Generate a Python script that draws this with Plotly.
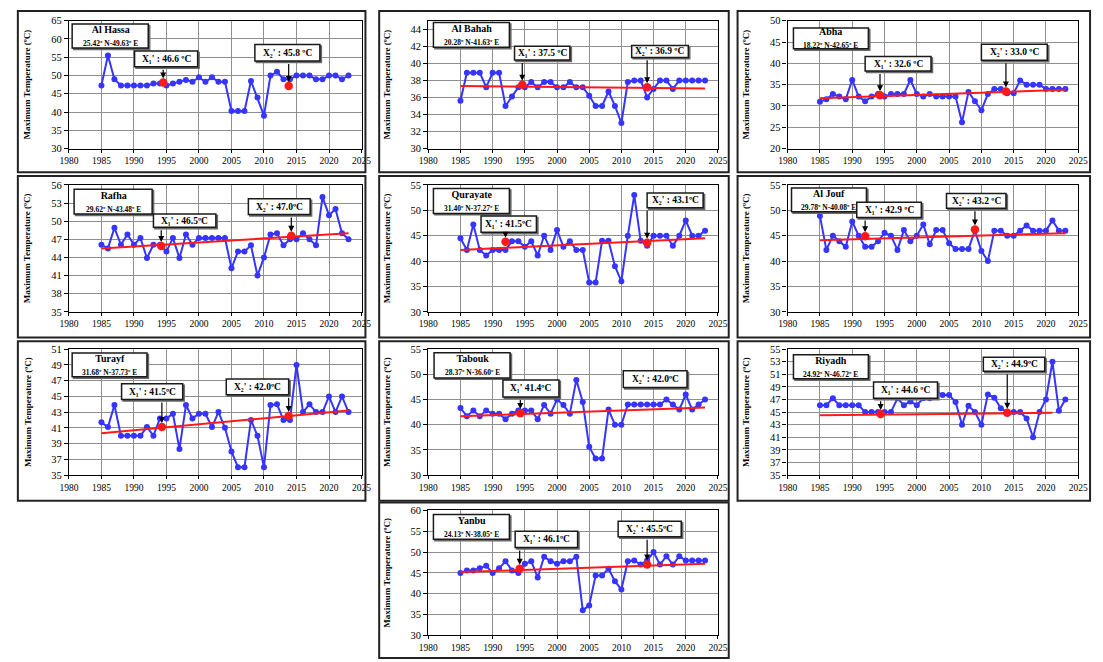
import plotly.graph_objects as go

# ---------------- data ----------------
years = list(range(1985, 2024))

al_hassa = [47.3, 55.5, 49.0, 47.3, 47.3, 47.3, 47.3, 47.3, 47.8, 47.8,
            47.3, 47.8, 48.3, 48.8, 48.3, 49.5, 48.3, 49.5, 48.3, 48.3,
            40.3, 40.3, 40.3, 48.5, 44.0, 39.0, 50.0, 51.0, 49.0, 49.0,
            50.0, 50.0, 50.0, 49.0, 49.0, 50.0, 50.0, 49.0, 50.0]
al_bahah = [35.6, 38.9, 38.9, 38.9, 37.2, 38.9, 38.9, 35.0, 36.1, 37.2,
            37.2, 37.8, 37.2, 37.8, 37.8, 37.2, 37.2, 37.8, 37.2, 37.2,
            36.2, 35.0, 35.0, 36.7, 35.0, 33.0, 37.8, 38.0, 38.0, 36.0,
            37.0, 38.0, 38.0, 37.0, 38.0, 38.0, 38.0, 38.0, 38.0]
abha = [31.0, 31.6, 32.8, 32.2, 31.6, 36.1, 32.2, 31.1, 32.2, 32.8,
        32.2, 32.8, 32.8, 32.8, 36.1, 32.8, 32.2, 32.8, 32.2, 32.2,
        32.2, 32.2, 26.2, 33.3, 31.1, 29.0, 32.8, 34.0, 34.0, 33.0,
        33.0, 36.0, 35.0, 35.0, 35.0, 34.0, 34.0, 34.0, 34.0]
rafha = [46.1, 45.5, 48.9, 46.1, 47.8, 46.1, 47.2, 43.9, 46.1, 46.1,
         45.0, 47.2, 43.9, 47.8, 46.1, 47.2, 47.2, 47.2, 47.2, 47.2,
         42.2, 45.0, 45.0, 46.0, 41.0, 44.0, 47.8, 48.0, 46.0, 47.0,
         47.0, 48.0, 47.0, 46.0, 54.0, 51.0, 52.0, 48.0, 47.0]
qurayate = [44.5, 42.2, 47.2, 42.2, 41.1, 42.2, 42.2, 42.2, 43.9, 43.9,
            42.8, 43.9, 41.1, 45.0, 42.2, 46.1, 42.8, 43.9, 42.2, 42.2,
            35.8, 35.8, 44.0, 44.0, 39.0, 36.0, 45.0, 53.0, 44.0, 43.0,
            45.0, 45.0, 45.0, 43.0, 45.0, 48.0, 45.0, 45.0, 46.0]
al_jouf = [48.9, 42.2, 45.0, 43.9, 42.8, 47.8, 45.0, 42.8, 42.8, 43.9,
           45.6, 45.0, 42.2, 46.1, 43.9, 45.0, 47.2, 43.3, 46.1, 46.1,
           43.5, 42.4, 42.4, 42.4, 46.0, 42.0, 40.0, 46.0, 46.0, 45.0,
           45.0, 46.0, 47.0, 46.0, 46.0, 46.0, 48.0, 46.0, 46.0]
turayf = [41.7, 41.1, 43.9, 40.0, 40.0, 40.0, 40.0, 41.1, 40.0, 42.2,
          42.2, 42.8, 38.3, 43.9, 42.2, 42.8, 42.8, 41.1, 43.0, 41.0,
          38.0, 36.0, 36.0, 42.0, 40.0, 36.0, 43.9, 44.0, 42.0, 42.0,
          49.0, 43.0, 44.0, 43.0, 43.0, 45.0, 43.0, 45.0, 43.0]
tabouk = [43.3, 41.7, 42.8, 41.7, 42.8, 42.2, 42.2, 41.1, 42.2, 42.8,
          42.8, 42.8, 41.1, 43.9, 42.2, 45.0, 43.9, 42.2, 48.9, 44.5,
          35.6, 33.3, 33.3, 43.0, 40.0, 40.0, 44.0, 44.0, 44.0, 44.0,
          44.0, 44.0, 45.0, 44.0, 43.0, 46.0, 43.0, 44.0, 45.0]
riyadh = [46.1, 46.1, 47.2, 46.1, 46.1, 46.1, 46.1, 45.0, 45.0, 45.0,
          45.0, 45.0, 47.2, 46.1, 46.7, 46.1, 47.2, 47.2, 48.3, 47.7,
          47.7, 46.6, 43.0, 46.0, 45.0, 43.0, 47.8, 47.3, 45.6, 45.0,
          45.0, 45.0, 44.0, 41.0, 45.0, 47.0, 53.0, 45.2, 47.0]
yanbu = [45.0, 45.6, 45.6, 46.1, 46.7, 45.0, 46.1, 47.8, 45.6, 45.0,
         47.2, 47.8, 43.9, 48.9, 47.8, 47.2, 47.8, 47.8, 48.9, 36.0,
         37.2, 44.4, 44.4, 46.0, 43.0, 41.0, 47.8, 48.0, 47.0, 48.0,
         50.0, 47.0, 49.0, 47.0, 49.0, 48.0, 48.0, 48.0, 48.0]

# trend lines (start/end)
trend_x = {"Al Bahah": [1985, 2023], "Abha": [1985, 2023], "Rafha": [1985, 2023],
           "Qurayate": [1985, 2023], "Al Jouf": [1985, 2023], "Turayf": [1985, 2023],
           "Tabouk": [1985, 2023], "Riyadh": [1985, 2021], "Yanbu": [1985, 2023]}
trend_y = {"Al Bahah": [37.35, 37.05], "Abha": [31.8, 33.8], "Rafha": [45.5, 48.0],
           "Qurayate": [42.2, 44.5], "Al Jouf": [44.1, 45.5], "Turayf": [40.3, 43.2],
           "Tabouk": [41.7, 43.4], "Riyadh": [44.5, 44.9], "Yanbu": [45.2, 47.2]}

# red highlighted points
red_x = {"Al Hassa": [1994.5, 2013.8], "Al Bahah": [1994.6, 2014.0], "Abha": [1994.3, 2013.8],
         "Rafha": [1994.2, 2014.2], "Qurayate": [1992.0, 2014.0], "Al Jouf": [1992.0, 2009.0],
         "Turayf": [1994.3, 2013.8], "Tabouk": [1994.3], "Riyadh": [1994.4, 2014.0],
         "Yanbu": [1994.2, 2014.0]}
red_y = {"Al Hassa": [48.1, 47.1], "Al Bahah": [37.5, 37.2], "Abha": [32.5, 33.4],
         "Rafha": [45.9, 47.6], "Qurayate": [43.8, 43.6], "Al Jouf": [44.9, 46.2],
         "Turayf": [41.1, 42.5], "Tabouk": [42.3], "Riyadh": [44.7, 44.9],
         "Yanbu": [46.0, 47.0]}

station_names = ["Al Hassa", "Al Bahah", "Abha", "Rafha", "Qurayate",
                 "Al Jouf", "Turayf", "Tabouk", "Riyadh", "Yanbu"]
station_coords = ["25.42º N-49.63º E", "20.28º N-41.63º E", "18.22º N-42.65º E",
                  "29.62º N-43.48º E", "31.40º N-37.27º E", "29.78º N-40.08º E",
                  "31.68º N-37.73º E", "28.37º N-36.60º E", "24.92º N-46.72º E",
                  "24.13º N-38.05º E"]
x1_labels = ["X₁' : 46.6 ºC", "X₁' : 37.5 ºC", "X₁' : 32.6 ºC", "X₁' : 46.5ºC",
             "X₁' : 41.5ºC", "X₁' : 42.9 ºC", "X₁' : 41.5ºC", "X₁' 41.4ºC",
             "X₁' : 44.6 ºC", "X₁' : 46.1ºC"]
x2_labels = ["X₂' : 45.8 ºC", "X₂' : 36.9 ºC", "X₂' : 33.0 ºC", "X₂' : 47.0ºC",
             "X₂' : 43.1ºC", "X₂' : 43.2 ºC", "X₂' : 42.0ºC", "X₂' : 42.0ºC",
             "X₂' : 44.9ºC", "X₂' : 45.5ºC"]
y_title = "Maximum Temperature (ºC)"
series = [al_hassa, al_bahah, abha, rafha, qurayate, al_jouf, turayf, tabouk, riyadh, yanbu]
y_ranges = [[30, 65], [30, 45], [20, 50], [35, 56], [30, 55],
            [30, 55], [35, 51], [30, 55], [35, 55], [30, 60]]
y_dticks = [5, 2, 5, 3, 5, 5, 2, 5, 2, 5]

# ---------------- layout config ----------------
# label boxes in data coords [x0, x1, y0, y1]
box_station = [[1980.5, 1992.2, 57.5, 64.1], [1980.8, 1992.6, 41.9, 44.8], [1980.9, 1992.5, 43.4, 48.3],
               [1980.8, 1992.8, 51.2, 55.3], [1980.8, 1992.6, 49.4, 54.3], [1980.6, 1992.2, 49.7, 54.4],
               [1980.5, 1992.0, 47.5, 50.5], [1980.9, 1992.7, 49.3, 54.3], [1980.9, 1992.5, 50.3, 54.1],
               [1980.8, 1992.6, 53.1, 59.0]]
box_x1 = [[1990.1, 1999.8, 52.4, 56.7], [1993.4, 2002.0, 40.4, 42.0], [1992.0, 2002.2, 38.2, 41.6],
          [1993.0, 2002.6, 49.0, 51.2], [1988.2, 1996.8, 45.7, 48.9], [1990.7, 2000.7, 48.6, 51.6],
          [1988.1, 1997.5, 44.6, 46.6], [1991.6, 2000.3, 45.5, 48.9], [1993.3, 2003.2, 47.2, 49.8],
          [1993.5, 2003.2, 51.1, 55.0]]
box_x2 = [[2008.6, 2018.6, 54.0, 58.5], [2011.6, 2020.4, 40.7, 42.1], [2010.0, 2020.2, 40.7, 44.5],
          [2007.6, 2017.1, 51.1, 53.7], [2014.0, 2022.7, 50.5, 53.4], [2004.6, 2013.8, 50.4, 53.3],
          [2004.2, 2013.8, 45.2, 47.2], [2010.3, 2020.2, 47.4, 50.7], [2010.3, 2019.8, 51.5, 53.7],
          [2009.5, 2019.3, 53.7, 57.4]]

W, H = 1103, 662
cols_px = [(60, 358), (426, 721), (792, 1088)]
rows_px = [(16, 146), (183, 312), (350, 478), (514, 641)]
frames_x = [(8, 362), (376, 732), (741, 1100)]
frames_y = [(6, 170), (174, 338), (342, 504), (506, 664)]
grid_pos = [(0, 0), (0, 1), (0, 2), (1, 0), (1, 1), (1, 2), (2, 0), (2, 1), (2, 2), (3, 1)]

FONT = "Liberation Serif"
BLUE = "#3535ff"
RED = "#ff1a1a"
GRID = "#8f8f8f"

fig = go.Figure()
layout = dict(width=W, height=H, margin=dict(l=0, r=0, t=0, b=0), autosize=False,
              paper_bgcolor="white", plot_bgcolor="white", showlegend=False,
              font=dict(family=FONT, color="black"))
annotations = []
shapes = []

for i, name in enumerate(station_names):
    r, c = grid_pos[i]
    sfx = "" if i == 0 else str(i + 1)
    xa, ya = "x" + sfx, "y" + sfx
    px0, px1 = cols_px[c]
    py0, py1 = rows_px[r]
    ymin, ymax = y_ranges[i]
    xpu = (px1 - px0) / 45.0
    ypu = (py1 - py0) / float(ymax - ymin)

    fig.add_trace(go.Scatter(x=years, y=series[i], mode="lines+markers", xaxis=xa, yaxis=ya,
                             line=dict(color=BLUE, width=2),
                             marker=dict(color=BLUE, size=6), hoverinfo="skip"))
    if name in trend_x:
        fig.add_trace(go.Scatter(x=trend_x[name], y=trend_y[name], mode="lines", xaxis=xa, yaxis=ya,
                                 line=dict(color=RED, width=2), hoverinfo="skip"))
    fig.add_trace(go.Scatter(x=red_x[name], y=red_y[name], mode="markers", xaxis=xa, yaxis=ya,
                             marker=dict(color=RED, size=8.5), hoverinfo="skip"))

    layout["xaxis" + sfx] = dict(domain=[px0 / W, px1 / W], anchor=ya, range=[1980, 2025],
                                 tick0=1980, dtick=5, showgrid=True, gridcolor=GRID, gridwidth=1,
                                 showline=True, mirror=True, linecolor="black", linewidth=1.3,
                                 ticks="outside", ticklen=3, tickcolor="black", zeroline=False,
                                 tickfont=dict(family=FONT, size=9.5, color="black"))
    layout["yaxis" + sfx] = dict(domain=[1 - py1 / H, 1 - py0 / H], anchor=xa, range=[ymin, ymax],
                                 tick0=ymin, dtick=y_dticks[i], showgrid=True, gridcolor=GRID,
                                 gridwidth=1, showline=True, mirror=True, linecolor="black",
                                 linewidth=1.3, ticks="outside", ticklen=4, tickcolor="black",
                                 zeroline=False,
                                 tickfont=dict(family=FONT, size=10.5, color="black"),
                                 title=dict(text="<b>" + y_title + "</b>",
                                            font=dict(family=FONT, size=9, color="black"),
                                            standoff=18))

    fx0, fx1 = frames_x[c]
    fy0, fy1 = frames_y[r]
    shapes.append(dict(type="rect", xref="paper", yref="paper",
                       x0=fx0 / W, x1=fx1 / W, y0=1 - fy1 / H, y1=1 - fy0 / H,
                       line=dict(color="#222222", width=2), fillcolor="rgba(0,0,0,0)"))

    dx, dy = 1.5 / xpu, 1.5 / ypu

    def add_box(b, text, size=9.5):
        bx0, bx1, by0, by1 = b
        shapes.append(dict(type="rect", xref=xa, yref=ya, x0=bx0 + dx, x1=bx1 + dx,
                           y0=by0 - dy, y1=by1 - dy, layer="above",
                           line=dict(color="#6a6a6a", width=1.5), fillcolor="#6a6a6a"))
        shapes.append(dict(type="rect", xref=xa, yref=ya, x0=bx0, x1=bx1, y0=by0, y1=by1,
                           layer="above", line=dict(color="#1a1a1a", width=1.5), fillcolor="white"))
        annotations.append(dict(x=(bx0 + bx1) / 2, y=(by0 + by1) / 2, xref=xa, yref=ya,
                                text=text, showarrow=False,
                                font=dict(family=FONT, size=size, color="black"),
                                align="center", xanchor="center", yanchor="middle"))

    add_box(box_station[i],
            "<b>" + name + "</b><br><b><span style='font-size:7.5px'>" + station_coords[i] + "</span></b>",
            size=10)
    add_box(box_x1[i], "<b>" + x1_labels[i] + "</b>")
    add_box(box_x2[i], "<b>" + x2_labels[i] + "</b>")

    # arrows from label boxes to highlighted points
    boxes = [box_x1[i], box_x2[i]]
    for k in range(len(red_x[name])):
        tx, ty = red_x[name][k], red_y[name][k]
        annotations.append(dict(x=tx, y=ty, xref=xa, yref=ya, ax=tx, ay=boxes[k][2] - dy,
                                axref=xa, ayref=ya, text="", showarrow=True,
                                arrowhead=2, arrowsize=1, arrowwidth=1.2, arrowcolor="black",
                                standoff=4))

layout["annotations"] = annotations
layout["shapes"] = shapes
fig.update_layout(**layout)
fig.write_html("out.html", config={"displayModeBar": False},
               post_script="document.body.style.margin='0';")
